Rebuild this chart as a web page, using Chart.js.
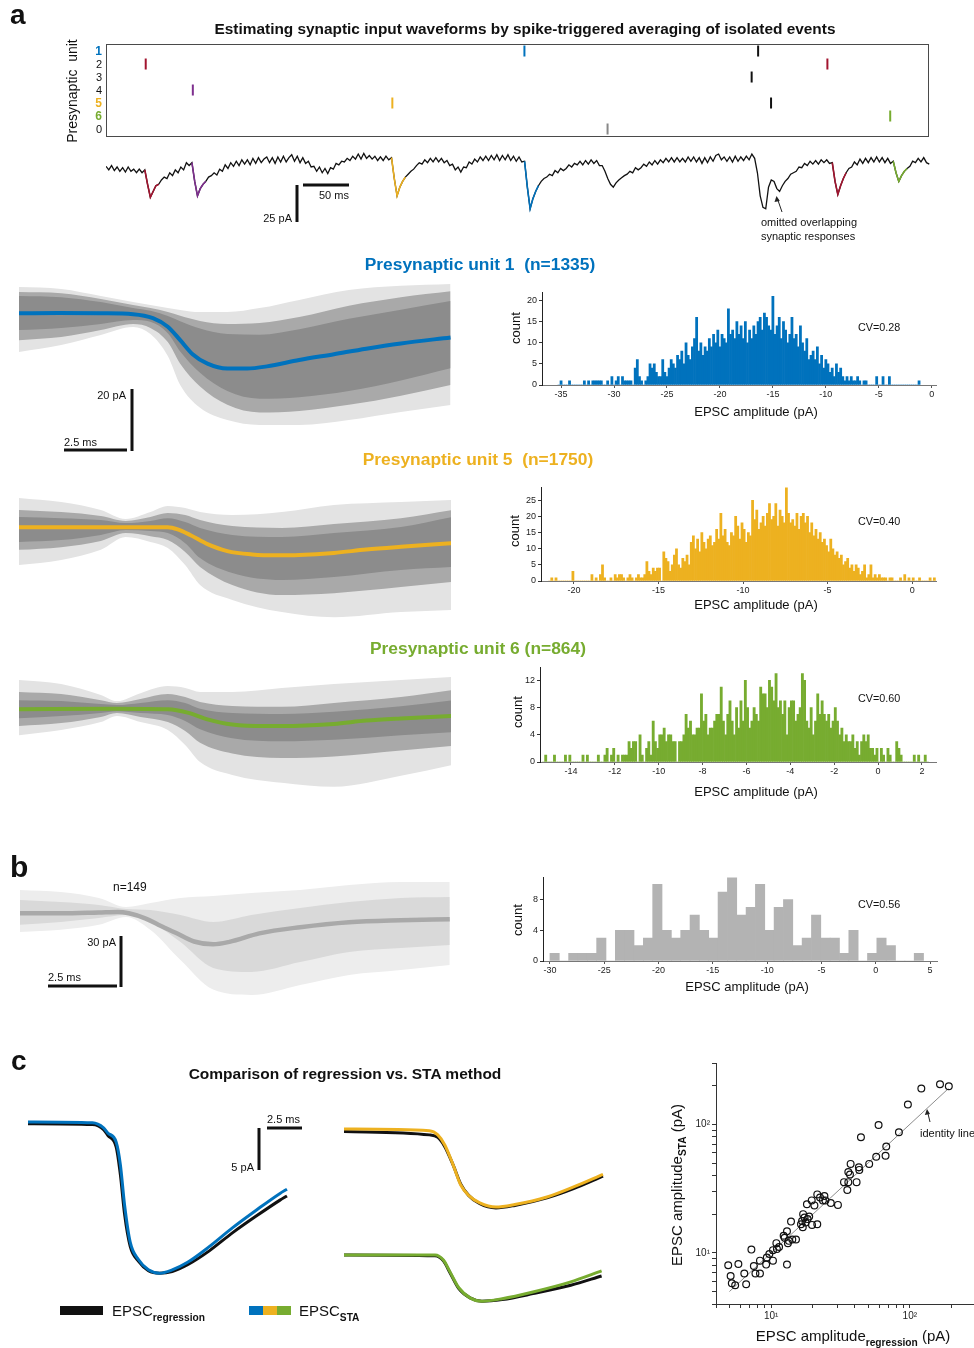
<!DOCTYPE html>
<html>
<head>
<meta charset="utf-8">
<title>Spike-triggered averaging of synaptic inputs</title>
<script src="https://cdn.jsdelivr.net/npm/chart.js@4.4.1/dist/chart.umd.min.js"></script>
<style>
  html, body { margin: 0; padding: 0; background: #fff; overflow: hidden; }
  #fig { position: relative; width: 974px; height: 1348px; overflow: hidden;
         font-family: "Liberation Sans", Arial, Helvetica, sans-serif; color: #111; }
  #fig canvas { position: absolute; z-index: 1; }
  #marks { position: absolute; left: 0; top: 0; z-index: 5; }
  .t { position: absolute; white-space: pre; line-height: 1; z-index: 6; }
  .mid { transform: translateX(-50%); }
  .end { transform: translateX(-100%); }
  .rot { transform: translate(-50%, -50%) rotate(-90deg); }
  .b { font-weight: bold; }
  sub { font-size: 0.68em; font-weight: bold; vertical-align: -0.45em; line-height: 0; }
</style>
</head>
<body>
<div id="fig">
  <!-- panel a -->
  <div class="t b" style="left:10px;top:1px;font-size:28px">a</div>
  <div class="t b mid" style="left:525px;top:21px;font-size:15.4px">Estimating synaptic input waveforms by spike-triggered averaging of isolated events</div>
  <div class="t rot" style="left:72px;top:91px;font-size:14px">Presynaptic  unit</div>
  <div class="t" style="left:319px;top:190px;font-size:11px">50 ms</div>
  <div class="t end" style="left:292px;top:213px;font-size:11px">25 pA</div>
  <div class="t" style="left:761px;top:217px;font-size:11px">omitted overlapping</div>
  <div class="t" style="left:761px;top:231px;font-size:11px">synaptic responses</div>

  <div class="t b mid" style="left:480px;top:256px;font-size:17.4px;color:#0072BD">Presynaptic unit 1  (n=1335)</div>
  <div class="t b mid" style="left:478px;top:451px;font-size:17.4px;color:#EDB120">Presynaptic unit 5  (n=1750)</div>
  <div class="t b mid" style="left:478px;top:640px;font-size:17.4px;color:#77AC30">Presynaptic unit 6 (n=864)</div>
  <div class="t end" style="left:126px;top:390px;font-size:11px">20 pA</div>
  <div class="t" style="left:64px;top:437px;font-size:11px">2.5 ms</div>

  <div class="t rot" style="left:515px;top:328px;font-size:13px">count</div>
  <div class="t mid" style="left:756px;top:405px;font-size:13px">EPSC amplitude (pA)</div>
  <div class="t" style="left:858px;top:322px;font-size:10.8px">CV=0.28</div>
  <div class="t rot" style="left:514px;top:531px;font-size:13px">count</div>
  <div class="t mid" style="left:756px;top:598px;font-size:13px">EPSC amplitude (pA)</div>
  <div class="t" style="left:858px;top:516px;font-size:10.8px">CV=0.40</div>
  <div class="t rot" style="left:517px;top:712px;font-size:13px">count</div>
  <div class="t mid" style="left:756px;top:785px;font-size:13px">EPSC amplitude (pA)</div>
  <div class="t" style="left:858px;top:693px;font-size:10.8px">CV=0.60</div>

  <!-- panel b -->
  <div class="t b" style="left:10px;top:852px;font-size:30px">b</div>
  <div class="t" style="left:113px;top:881px;font-size:12px">n=149</div>
  <div class="t end" style="left:116px;top:937px;font-size:11px">30 pA</div>
  <div class="t" style="left:48px;top:972px;font-size:11px">2.5 ms</div>
  <div class="t rot" style="left:517px;top:920px;font-size:13px">count</div>
  <div class="t mid" style="left:747px;top:980px;font-size:13px">EPSC amplitude (pA)</div>
  <div class="t" style="left:858px;top:899px;font-size:10.8px">CV=0.56</div>

  <!-- panel c -->
  <div class="t b" style="left:11px;top:1047px;font-size:28px">c</div>
  <div class="t b mid" style="left:345px;top:1066px;font-size:15.5px">Comparison of regression vs. STA method</div>
  <div class="t" style="left:267px;top:1114px;font-size:11px">2.5 ms</div>
  <div class="t end" style="left:254px;top:1162px;font-size:11px">5 pA</div>
  <div class="t" style="left:112px;top:1303px;font-size:15px">EPSC<sub>regression</sub></div>
  <div class="t" style="left:299px;top:1303px;font-size:15px">EPSC<sub>STA</sub></div>
  <div class="t rot" style="left:676px;top:1185px;font-size:15px">EPSC amplitude<sub>STA</sub> (pA)</div>
  <div class="t mid" style="left:853px;top:1328px;font-size:15px">EPSC amplitude<sub>regression</sub> (pA)</div>
  <div class="t" style="left:920px;top:1128px;font-size:11px">identity line</div>

  <!-- scale bars, legend swatches, pointer arrows -->
  <svg id="marks" width="974" height="1348">
    <g stroke="#111" stroke-width="3" fill="none">
      <line x1="297" y1="185" x2="297" y2="222"/>
      <line x1="303" y1="185" x2="349" y2="185"/>
      <line x1="132" y1="389" x2="132" y2="451"/>
      <line x1="64" y1="450" x2="127" y2="450"/>
      <line x1="121" y1="936" x2="121" y2="987"/>
      <line x1="48" y1="986" x2="117" y2="986"/>
      <line x1="259" y1="1128" x2="259" y2="1170"/>
      <line x1="267" y1="1128" x2="302" y2="1128"/>
    </g>
    <rect x="60" y="1306" width="43" height="9" fill="#111"/>
    <rect x="249" y="1306" width="14" height="9" fill="#0072BD"/>
    <rect x="263" y="1306" width="14" height="9" fill="#EDB120"/>
    <rect x="277" y="1306" width="14" height="9" fill="#77AC30"/>
    <g stroke="#222" stroke-width="1" fill="#222">
      <line x1="782" y1="212" x2="777.5" y2="199"/>
      <polygon points="776.5,196 774.5,202 779.8,201" stroke="none"/>
      <line x1="930" y1="1122" x2="927.6" y2="1112"/>
      <polygon points="927,1109 924.8,1115 930,1114" stroke="none"/>
    </g>
  </svg>
</div>

<script>
// ---------- colours ----------
const C = { blue: '#0072BD', orange: '#EDB120', green: '#77AC30', purple: '#7E2F8E', red: '#A2142F' };

// ---------- raster of presynaptic spikes ----------
const rasterRows = ['1', '2', '3', '4', '5', '6', '0'];
const spikeUnit = ['1', '1', '2', '2', '3', '4', '5', '5', '6', '0'];
const spikeMs = [453, 706, 43, 781, 699, 94, 310, 720, 849, 543];
const spikeColour = [C.blue, '#111', C.red, C.red, '#111', C.purple, C.orange, '#111', C.green, '#888'];
const unitColour = { '1': C.blue, '5': C.orange, '6': C.green };

// ---------- postsynaptic current recording (ms, pA) ----------
const rawTrace = [
  [0,0.5],[3,-2],[6,1],[9,-2.5],[12,0],[15,-3],[18,-0.5],[21,-3.5],[24,0],[27,-3],[30,-1.5],[33,-4],[36,-1.5],[39,-4],[42,-2],
  [45,-12],[48,-21],[51,-17],[54,-13],[57,-12],[60,-9],[63,-7],[66,-8],[69,-4],[72,-6],[75,-2],[78,-4],[81,0],[84,-2],[87,3],[90,1],[93,3],
  [96,-10],[99,-20],[102,-15],[105,-12],[108,-10],[111,-7],[114,-6],[117,-4],[120,-5.5],[123,-1.5],[126,-3],[129,1.5],[132,-1],[135,3],[138,0.5],
  [141,4],[144,1],[147,5],[150,2],[153,5],[156,1.5],[159,6],[162,2.5],[165,6.5],[168,3],[171,5.5],[174,7],[177,3],[180,6.5],[183,2.5],[186,7],
  [189,3.5],[192,7.5],[195,3.5],[198,6.5],[201,8.5],[204,4],[207,7.5],[210,3],[213,6.5],[216,2.5],[219,4],[222,0],[225,0.5],[228,-3],[231,0],[234,-4],
  [237,-1],[240,-4.5],[243,-0.5],[246,-1.5],[249,2.5],[252,1.5],[255,4],[258,3.5],[261,6],[264,4.5],[267,7.5],[270,5.5],[273,9],[276,5.5],[279,9.5],
  [282,6],[285,8],[288,5.5],[291,7.5],[294,4.5],[297,7],[300,4.5],[303,7.5],[306,5],[309,6.5],
  [312,-8],[315,-20],[318,-14],[321,-10],[324,-7],[327,-5],[330,-3],[333,-1.5],[336,1],[339,3],[342,2],[345,5],[348,3],[351,6],[354,3.5],
  [357,6.5],[360,3.5],[363,6],[366,3],[369,4.5],[372,1],[375,2],[378,-2],[381,0],[384,-3.5],[387,0],[390,-0.5],[393,3.5],[396,2],[399,5.5],
  [402,3.5],[405,7],[408,4.5],[411,7.5],[414,4.5],[417,8],[420,5],[423,8.5],[426,4.5],[429,8],[432,5],[435,8.5],[438,4.5],[441,7.5],[444,4],
  [447,7],[450,3.5],[453,4],
  [456,-14],[459,-29],[462,-22],[465,-17],[468,-13],[471,-10],[474,-8],[477,-7],[480,-5],[483,-6],[486,-2.5],[489,-4],[492,-1],[495,-2.5],
  [498,-1],[501,1.5],[504,0],[507,2.5],[510,1.5],[513,4],[516,1.5],[519,4.5],[522,2],[525,5],[528,2.5],[531,4.5],[534,1],[537,1],
  [540,-3],[543,-8],[546,-12],[549,-14],[552,-11],[555,-9],[558,-7.5],[561,-6],[564,-5],[567,-3],[570,-4],[573,-0.5],[576,-2],[579,-0.5],
  [582,2],[585,0.5],[588,3.5],[591,1.5],[594,4.5],[597,2],[600,5],[603,3],[606,6],[609,3.5],[612,6.5],[615,3.5],[618,6.5],[621,3.5],[624,6],
  [627,3.5],[630,7],[633,4],[636,7],[639,3.5],[642,6.5],[645,2.5],[648,6.5],[651,3],[654,7],[657,4],[660,8],[663,9],[666,5],[669,7],
  [672,4],[675,7],[678,3.5],[681,7.5],[684,4],[687,7],[690,4.5],[693,7.5],[696,5],[699,9],[702,6],
  [705,-4],[708,-20],[711,-28],[714,-29],[717,-14],[720,-9],[723,-10],[726,-15],[729,-17],[732,-13],[735,-10],[738,-8],[741,-5],[744,-4],
  [747,-3],[750,0],[753,-0.5],[756,2.5],[759,1],[762,4],[765,2],[768,4.5],[771,2],[774,5],[777,3],[780,5],[783,2.5],[786,3],
  [789,-10],[792,-19],[795,-13],[798,-8],[801,-4],[804,-1],[807,0],[810,3.5],[813,1.5],[816,5.5],[819,2.5],[822,6],[825,3],[828,6.5],[831,3.5],
  [834,7],[837,3.5],[840,6.5],[843,3],[846,6],[849,2.5],[852,4],
  [855,-4],[858,-10],[861,-6],[864,-3],[867,-1],[870,0.5],[873,4],[876,3],[879,6],[882,3.5],[885,6.5],[888,3],[891,2]
];
// isolated events highlighted on the recording (ms window) and their unit colour
const eventWindows = [[42, 57], [93, 108], [309, 324], [453, 468], [786, 801], [852, 867]];
const eventColour = [C.red, C.purple, C.orange, C.blue, C.red, C.green];

// ---------- spike-triggered waveforms: mean and spread of single sweeps (ms, pA) ----------
const u1MeanMs = [0, 1.6, 3.3, 4.6, 5.4, 6.0, 6.5, 7.0, 7.6, 8.4, 9.2, 10.0, 11.3, 12.7, 14.0, 15.4, 17.4];
const u1MeanPa = [0, 0.1, 0, -0.3, -1.6, -4.4, -8.8, -13.4, -16.5, -18.1, -18.1, -17.4, -15.3, -13.4, -11.6, -9.9, -7.9];
const u1SpreadMs = [0, 1.7, 3.3, 4.6, 5.3, 6.0, 6.5, 7.3, 8.4, 9.7, 11.3, 13.3, 15.4, 17.4];
const u1CoreHi = [5.7, 5.3, 3.7, 1.7, 0.8, -0.9, -2.6, -5.0, -6.8, -7.0, -5.2, -1.8, 1.2, 4.0];
const u1CoreLo = [-5.5, -4.8, -3.5, -2.2, -2.8, -6.5, -12.5, -19.5, -25.5, -28.0, -27.5, -25.5, -22.0, -18.0];
const u1MidHi = [7.0, 6.6, 4.7, 2.7, 1.7, 0.4, -0.8, -2.5, -3.5, -3.2, -1.2, 2.5, 5.3, 7.2];
const u1MidLo = [-8.8, -7.8, -5.5, -3.5, -4.8, -9.4, -16.5, -24.0, -30.0, -32.5, -32.0, -30.0, -27.0, -23.5];
const u1OuterHi = [8.6, 8.0, 5.7, 3.7, 2.7, 1.7, 1.1, 0.4, 0.4, 1.7, 4.4, 7.6, 9.0, 9.6];
const u1OuterLo = [-12.7, -10.4, -7.1, -4.5, -6.8, -14, -23.5, -31, -35, -36.6, -36.6, -35, -32.4, -30.1];

const u5MeanMs = [0, 3.3, 6.0, 6.4, 6.9, 7.6, 8.4, 9.4, 10.4, 11.3, 12.7, 14.0, 15.4, 17.5];
const u5MeanPa = [0, 0, 0, -0.7, -2.5, -5.5, -7.8, -8.9, -9.2, -9.1, -8.4, -7.3, -6.4, -5.2];
const u5SpreadMs = [0, 1.7, 3.3, 4.3, 5.3, 6.0, 6.7, 7.3, 8.6, 10.6, 12.7, 15.4, 17.5];
const u5CoreHi = [3.4, 3.0, 2.4, 1.4, 2.1, 3.0, 1.7, -0.2, -2.5, -3.2, -1.9, 0.1, 3.4];
const u5CoreLo = [-4.8, -4.2, -2.5, -0.9, -1.2, -1.9, -5.2, -10.1, -15, -17.3, -16.3, -14, -13];
const u5MidHi = [5.7, 5.0, 3.7, 2.1, 3.4, 4.7, 4.0, 2.4, 0.4, -0.2, 1.1, 3.0, 5.7];
const u5MidLo = [-7.4, -6.5, -4.5, -1.9, -2.9, -4.2, -8.1, -13, -18.9, -22.2, -21.6, -19.6, -17.9];
const u5OuterHi = [9.6, 8.3, 5.7, 2.7, 5.0, 7.0, 6.3, 5.0, 4.0, 5.0, 7.3, 8.3, 9.0];
const u5OuterLo = [-12.4, -10.7, -7.4, -3.2, -4.8, -6.8, -12.4, -18.9, -23.8, -27.8, -29.5, -27.8, -27.1];

const u6MeanMs = [0, 3.9, 6.0, 6.8, 7.6, 8.6, 10.0, 11.3, 12.7, 14.0, 15.4, 17.5];
const u6MeanPa = [0, 0.2, 0, -1.1, -3.3, -5.0, -5.5, -5.4, -4.8, -3.7, -3.0, -2.2];
const u6SpreadMs = [0, 1.7, 3.3, 3.95, 4.9, 6.0, 6.7, 7.3, 8.6, 10.6, 12.7, 15.4, 17.5];
const u6CoreHi = [3.0, 2.7, 1.7, 1.4, 2.1, 3.0, 2.1, 0.2, -1.2, -1.5, -0.8, 1.0, 3.0];
const u6CoreLo = [-2.9, -2.2, -1.2, -0.6, -1.2, -1.9, -3.8, -6.5, -9.5, -10.5, -10.0, -8.5, -7.5];
const u6MidHi = [5.7, 5.0, 3.0, 2.1, 3.4, 5.0, 4.0, 2.4, 1.1, 0.8, 2.1, 4.0, 6.3];
const u6MidLo = [-5.5, -4.5, -2.5, -1.2, -2.5, -4.2, -7.1, -11.0, -14.5, -16, -15.5, -13.5, -12];
const u6OuterHi = [9.6, 8.3, 4.7, 2.7, 5.3, 7.6, 7.0, 5.7, 5.7, 7.0, 8.3, 9.6, 10.6];
const u6OuterLo = [-8.5, -6.8, -4.2, -2.2, -4.2, -6.8, -11.7, -17.3, -21.5, -24.1, -25.4, -21.8, -18.2];

const bMeanMs = [0, 1.5, 2.9, 3.6, 4.0, 4.6, 5.1, 5.7, 6.4, 7.1, 7.7, 8.8, 10.3, 12.1, 14.0, 15.8];
const bMeanPa = [0, 0, 0.5, 0.8, 0, -3, -7, -11.5, -16.9, -18.6, -17.1, -12, -8.3, -5.3, -4.1, -3.5];
const bSpreadMs = [0, 1.5, 2.9, 3.9, 4.8, 5.9, 7.1, 8.5, 10.3, 12.1, 14.0, 15.8];
const bCoreHi = [8, 6.8, 5, 2.6, 2, -1, -5.2, -1, 3.2, 6.8, 9.2, 9.8];
const bCoreLo = [-6.9, -5.2, -2.8, -1, -5.2, -17.2, -32.7, -35.1, -29.2, -23.2, -20.8, -19];
const bOuterHi = [14, 12.8, 9.2, 3.8, 6.2, 9.2, 10.4, 12.2, 14, 17, 18.8, 18.8];
const bOuterLo = [-11.2, -9.9, -6.9, -2.2, -10, -28, -45.7, -48.9, -42.9, -36.9, -33.9, -30.9];

// ---------- amplitude histograms (bin start, bin width, counts) ----------
const u1BinStart = -35.3, u1BinWidth = 0.2;
const u1Counts = [
  0,1,0,0,0, 1,0,0,0,0, 0,0,1,0,1, 0,1,1,1,1, 1,0,0,1,0, 2,0,1,2,0, 2,1,1,1,1, 0,4,6,2,1,
  0,1,2,5,4, 5,3,2,2,6, 3,2,4,6,5, 4,7,6,8,5, 10,7,6,9,11, 16,8,10,7,9, 8,11,9,12,10,
  13,9,12,11,10, 18,12,13,11,15, 12,14,11,15,10, 13,11,14,12,15, 16,13,17,16,14, 13,21,12,14,16,
  11,15,13,10,12, 16,11,12,9,14, 10,8,11,6,7, 8,6,9,5,7, 4,6,5,3,4, 2,5,3,4,2, 1,2,1,2,1,
  1,2,1,0,1, 1,0,0,0,0, 2,0,0,2,0, 0,2,0,0,0, 0,0,0,0,0, 0,0,0,0,0, 1
];
const u1XTicks = [-35, -30, -25, -20, -15, -10, -5, 0];
const u1YTicks = [0, 5, 10, 15, 20];

const u5BinStart = -21.5, u5BinWidth = 0.125;
const u5Counts = [
  0,1,0,1,0,0,0,0, 0,0,0,3,0,0,0,0, 0,0,0,0,2,0,1,0, 2,5,1,0,0,1,0,2, 1,2,2,1,0,1,2,1,
  0,1,2,1,1,2,6,3, 2,4,3,4,4,0,9,7, 6,3,5,8,10,5,4,7, 6,8,5,12,14,10,13,9, 15,12,10,13,14,11,12,16,
  13,21,14,16,12,11,15,14, 20,17,13,18,16,12,15,14, 25,19,22,16,18,20,17,21, 24,19,20,24,17,22,20,18,
  29,21,18,19,17,21,16,20, 21,18,20,15,18,14,16,13, 15,12,13,11,9,13,10,8, 9,7,8,5,6,7,4,5,
  3,5,4,2,3,5,1,2, 5,1,2,1,2,1,1,1, 0,1,1,0,0,0,1,0, 2,0,1,0,1,0,0,1, 0,0,0,0,1,0,1,0
];
const u5XTicks = [-20, -15, -10, -5, 0];
const u5YTicks = [0, 5, 10, 15, 20, 25];

const u6BinStart = -15.3, u6BinWidth = 0.1;
const u6Counts = [
  0,1,0,0,0,1,0,0,0,0, 1,0,1,0,0,0,0,0,1,0, 1,0,0,0,0,1,0,0,1,2, 0,1,2,0,1,0,1,1,1,3,
  2,3,3,0,4,1,0,2,3,1, 6,3,2,4,4,5,3,4,4,3, 3,0,3,3,4,7,5,6,4,4, 5,5,10,6,7,4,5,5,6,7,
  7,11,6,4,7,9,6,4,8,5, 9,6,12,8,5,6,8,7,6,11, 10,10,8,12,11,9,13,8,9,7, 9,4,8,9,9,6,7,8,13,12,
  6,5,8,4,6,10,7,9,7,6, 7,5,6,8,6,4,5,3,4,3, 3,4,2,3,1,3,4,3,4,2, 2,1,2,0,2,1,0,2,1,0,
  0,3,2,1,0,0,0,0,0,1, 0,1,0,0,1,0
];
const u6XTicks = [-14, -12, -10, -8, -6, -4, -2, 0, 2];
const u6YTicks = [0, 4, 8, 12];

const bBinStart = -30, bBinWidth = 0.86;
const bCounts = [1,0,1,1,1,3,0,4,4,2,3,10,4,3,4,6,4,3,9,11,6,7,10,4,7,8,2,3,6,3,3,1,4,0,1,3,2,0,0,1];
const bXTicks = [-30, -25, -20, -15, -10, -5, 0, 5];
const bYTicks = [0, 4, 8];

// ---------- regression vs STA waveforms (ms, pA) ----------
const cUnit1Ms = [0, 4.6, 5.4, 5.7, 6.3, 6.6, 6.9, 7.3, 7.9, 8.6, 9.4, 10.3, 11.4, 12.9, 14.6, 16.3, 18.0, 18.5];
const cUnit1Sta = [0, -0.1, -0.7, -1.3, -2.4, -5.1, -9.9, -14.3, -16.4, -17.6, -18.0, -17.6, -16.7, -14.9, -12.6, -10.5, -8.5, -8.0];
const cUnit1Reg = [-0.2, -0.3, -0.9, -1.6, -3.0, -6.3, -11.0, -14.8, -16.6, -17.7, -18.0, -17.8, -17.0, -15.4, -13.2, -11.2, -9.3, -8.8];
const cUnit5Ms = [0, 6.1, 6.7, 7.2, 7.8, 8.35, 8.9, 9.7, 10.85, 12.2, 14.5, 16.4, 18.5];
const cUnit5Sta = [0, -0.2, -0.7, -1.9, -4.3, -6.7, -7.9, -8.8, -9.3, -9.0, -8.1, -6.9, -5.4];
const cUnit5Reg = [-0.3, -0.7, -1.0, -2.1, -4.3, -6.6, -7.9, -8.9, -9.4, -9.1, -8.2, -7.1, -5.6];
const cUnit6Ms = [0, 6.5, 7.1, 7.6, 8.2, 9.0, 9.85, 11.3, 13.5, 16.2, 18.4];
const cUnit6Sta = [0, 0, -0.6, -2.1, -3.9, -5.1, -5.5, -5.2, -4.4, -3.2, -1.9];
const cUnit6Reg = [0, -0.1, -0.7, -2.2, -4.0, -5.1, -5.5, -5.3, -4.6, -3.6, -2.5];

// ---------- EPSC amplitudes, regression vs STA (pA) ----------
const regAmp = [4.9,5.1,5.2,5.5,5.8,6.4,6.6,7.2,7.5,7.7,8.3,8.3,9.2,9.3,9.7,10.3,10.3,10.9,11.0,11.4,13.0,12.3,12.5,13.0,13.2,13.4,13.9,14.2,15.1,16.4,16.7,16.9,17.0,17.4,17.7,18.1,18.3,18.8,19.6,19.7,20.5,21.5,21.5,22.5,23.6,24.2,24.6,26.9,30.3,33.5,35.4,36.0,36.0,37.0,37.4,41.3,42.9,43.2,44.4,50.9,57.2,59.5,66.8,67.6,83.4,96.8,121,165,191];
const staAmp = [8.0,6.6,5.8,5.6,8.2,6.9,5.7,10.6,7.9,6.9,6.9,8.7,8.1,9.2,9.8,8.7,10.5,11.9,10.7,11.1,8.1,13.6,13.1,14.7,11.9,12.4,17.5,12.7,12.7,16.7,17.7,15.8,20.0,18.8,17.2,23.9,18.3,19.2,25.6,16.5,23.4,16.7,28.5,26.9,25.6,27.7,25.6,24.4,23.6,35.5,30.8,35.5,42.6,40.7,49.2,35.5,46.4,44.2,79.4,49.2,56.0,98.9,57.0,67.3,86.7,142.6,190,205,198];
const identityEnds = [5, 190];
const logTicks = [4, 5, 6, 7, 8, 9, 10, 20, 30, 40, 50, 60, 70, 80, 90, 100, 200, 300];

// ================= drawing =================
Chart.defaults.animation = false;
Chart.defaults.responsive = false;
Chart.defaults.events = [];
Chart.defaults.layout.autoPadding = false;
Chart.defaults.font.family = '"Liberation Sans", Arial, sans-serif';
Chart.defaults.color = '#222';
Chart.defaults.plugins.legend.display = false;
Chart.defaults.plugins.tooltip.enabled = false;
Chart.defaults.elements.point.radius = 0;

const fig = document.getElementById('fig');

function addCanvas(left, top, width, height) {
  const cv = document.createElement('canvas');
  cv.width = width;
  cv.height = height;
  Object.assign(cv.style, { left: left + 'px', top: top + 'px', width: width + 'px', height: height + 'px' });
  fig.appendChild(cv);
  return cv;
}

function addText(text, left, top, size, cls, colour) {
  const d = document.createElement('div');
  d.className = 't ' + cls;
  d.textContent = text;
  Object.assign(d.style, { left: left + 'px', top: top + 'px', fontSize: size + 'px' });
  if (colour) d.style.color = colour;
  fig.appendChild(d);
}

const pts = (ms, pa) => ms.map((t, i) => ({ x: t, y: pa[i] }));

function trace(ms, pa, colour, width) {
  return { data: pts(ms, pa), borderColor: colour, borderWidth: width, fill: false };
}

// filled region between two envelopes; the lower one is the "next" dataset
function band(ms, hi, lo, colour) {
  return [
    { data: pts(ms, hi), borderColor: 'rgba(0,0,0,0)', borderWidth: 1, backgroundColor: colour, fill: '+1' },
    { data: pts(ms, lo), borderColor: 'rgba(0,0,0,0)', borderWidth: 1, fill: false }
  ];
}

// axis-free current plot; box gives placement and scale (px per ms, px per pA, baseline px)
function waveChart(box, datasets, smooth = true) {
  const cv = addCanvas(box.left, box.top, box.width, box.height);
  return new Chart(cv, {
    type: 'line',
    data: { datasets },
    options: {
      layout: { padding: 0 },
      elements: { line: { cubicInterpolationMode: smooth ? 'monotone' : 'default', tension: 0 } },
      scales: {
        x: { type: 'linear', display: false, min: 0, max: box.width / box.pxPerMs },
        y: { type: 'linear', display: false,
             min: (box.base - box.top - box.height) / box.pxPerPa,
             max: (box.base - box.top) / box.pxPerPa }
      }
    }
  });
}

function histChart(box, binStart, binWidth, counts, colour, xTicks, yTicks) {
  const cv = addCanvas(box.left, box.top, box.width, box.height);
  const bars = counts.map((n, i) => ({ x: binStart + (i + 0.5) * binWidth, y: n }));
  return new Chart(cv, {
    type: 'bar',
    data: { datasets: [{ data: bars, backgroundColor: colour, borderWidth: 0, barPercentage: 1, categoryPercentage: 1 }] },
    options: {
      layout: { padding: { top: box.padTop, right: box.padRight, left: 0, bottom: 0 } },
      scales: {
        x: {
          type: 'linear', min: box.xMin, max: box.xMax, offset: false,
          afterFit: s => { s.height = 20; },
          afterBuildTicks: s => { s.ticks = xTicks.map(v => ({ value: v })); },
          ticks: { autoSkip: false, maxRotation: 0, padding: 1, font: { size: 9 }, callback: v => String(v) },
          grid: { offset: false, drawOnChartArea: false, tickLength: 3, color: '#555' },
          border: { color: '#777' }
        },
        y: {
          min: 0, max: box.yMax,
          afterFit: s => { s.width = box.axisW; },
          afterBuildTicks: s => { s.ticks = yTicks.map(v => ({ value: v })); },
          ticks: { autoSkip: false, padding: 2, font: { size: 9 }, callback: v => String(v) },
          grid: { drawOnChartArea: false, tickLength: 3, color: '#333' },
          border: { color: '#222' }
        }
      }
    }
  });
}

// --- raster ---
const framePlugin = {
  id: 'frame',
  afterDraw(chart) {
    const a = chart.chartArea, ctx = chart.ctx;
    ctx.save();
    ctx.strokeStyle = '#4a4a4a';
    ctx.lineWidth = 1;
    ctx.strokeRect(a.left + 0.5, a.top + 0.5, a.right - a.left - 1, a.bottom - a.top - 1);
    ctx.restore();
  }
};
const rowValue = u => 6 - rasterRows.indexOf(u);
const rasterChart = new Chart(addCanvas(80, 40, 850, 100), {
  type: 'scatter',
  data: { datasets: [{
    data: spikeMs.map((t, i) => ({ x: t, y: rowValue(spikeUnit[i]) })),
    pointStyle: 'line', pointRotation: 90, pointRadius: 5.5, pointBorderWidth: 2, pointBorderColor: spikeColour
  }] },
  options: {
    layout: { padding: { top: 4, right: 1, bottom: 3, left: 26 } },
    scales: {
      x: { type: 'linear', display: false, min: 0, max: 891 },
      y: { type: 'linear', display: false, min: -0.615, max: 6.54 }
    }
  },
  plugins: [framePlugin]
});
// unit labels beside each raster row, placed through the row scale
rasterRows.forEach(u => {
  const y = 40 + rasterChart.scales.y.getPixelForValue(rowValue(u));
  const size = unitColour[u] ? 12 : 11;
  addText(u, 102, y - 0.49 * size, size, 'end' + (unitColour[u] ? ' b' : ''), unitColour[u]);
});

// --- recording with highlighted isolated events ---
const rawMs = rawTrace.map(p => p[0]);
const rawPa = rawTrace.map(p => p[1]);
const eventSets = eventWindows.map(([a, b], k) => {
  const seg = rawTrace.filter(p => p[0] >= a && p[0] <= b);
  return trace(seg.map(p => p[0]), seg.map(p => p[1]), eventColour[k], 1.6);
});
waveChart({ left: 106, top: 148, width: 824, height: 72, base: 167, pxPerMs: 0.924, pxPerPa: 1.44 },
  [...eventSets, trace(rawMs, rawPa, '#111', 1.3)], false);

// --- per-unit spike-triggered sweeps ---
const aScale = { pxPerMs: 24.8, pxPerPa: 3.05 };
const CORE = '#8c8c8c', MID = '#a9a9a9', OUTER = '#e3e3e3';
waveChart({ left: 19, top: 280, width: 432, height: 160, base: 313.3, ...aScale }, [
  trace(u1MeanMs, u1MeanPa, C.blue, 4),
  ...band(u1SpreadMs, u1CoreHi, u1CoreLo, CORE),
  ...band(u1SpreadMs, u1MidHi, u1MidLo, MID),
  ...band(u1SpreadMs, u1OuterHi, u1OuterLo, OUTER)
]);
waveChart({ left: 19, top: 475, width: 432, height: 160, base: 527.3, ...aScale }, [
  trace(u5MeanMs, u5MeanPa, C.orange, 4),
  ...band(u5SpreadMs, u5CoreHi, u5CoreLo, CORE),
  ...band(u5SpreadMs, u5MidHi, u5MidLo, MID),
  ...band(u5SpreadMs, u5OuterHi, u5OuterLo, OUTER)
]);
waveChart({ left: 19, top: 660, width: 432, height: 135, base: 709.3, ...aScale }, [
  trace(u6MeanMs, u6MeanPa, C.green, 4),
  ...band(u6SpreadMs, u6CoreHi, u6CoreLo, CORE),
  ...band(u6SpreadMs, u6MidHi, u6MidLo, MID),
  ...band(u6SpreadMs, u6OuterHi, u6OuterLo, OUTER)
]);
waveChart({ left: 20, top: 875, width: 432, height: 125, base: 913.3, pxPerMs: 27.2, pxPerPa: 1.67 }, [
  trace(bMeanMs, bMeanPa, '#a9a9a9', 4.5),
  ...band(bSpreadMs, bCoreHi, bCoreLo, '#d9d9d9'),
  ...band(bSpreadMs, bOuterHi, bOuterLo, '#ededed')
]);

// --- amplitude histograms ---
histChart({ left: 500, top: 285, width: 440, height: 120, padTop: 5, padRight: 4, axisW: 42, xMin: -36.8, xMax: 0.4, yMax: 21.9 },
  u1BinStart, u1BinWidth, u1Counts, C.blue, u1XTicks, u1YTicks);
histChart({ left: 500, top: 480, width: 440, height: 121, padTop: 5, padRight: 4, axisW: 41, xMin: -21.95, xMax: 1.41, yMax: 29 },
  u5BinStart, u5BinWidth, u5Counts, C.orange, u5XTicks, u5YTicks);
histChart({ left: 500, top: 660, width: 440, height: 122, padTop: 5, padRight: 4, axisW: 40, xMin: -15.41, xMax: 2.64, yMax: 13.9 },
  u6BinStart, u6BinWidth, u6Counts, C.green, u6XTicks, u6YTicks);
histChart({ left: 500, top: 870, width: 441, height: 111, padTop: 5, padRight: 4, axisW: 43, xMin: -30.64, xMax: 5.64, yMax: 10.9 },
  bBinStart, bBinWidth, bCounts, '#b3b3b3', bXTicks, bYTicks);

// --- regression vs STA overlays ---
const cScale = { pxPerMs: 14, pxPerPa: 8.4 };
waveChart({ left: 28, top: 1108, width: 262, height: 180, base: 1122, ...cScale }, [
  trace(cUnit1Ms, cUnit1Sta, C.blue, 3), trace(cUnit1Ms, cUnit1Reg, '#111', 3)
]);
waveChart({ left: 344, top: 1118, width: 262, height: 100, base: 1129, ...cScale }, [
  trace(cUnit5Ms, cUnit5Sta, C.orange, 3), trace(cUnit5Ms, cUnit5Reg, '#111', 3)
]);
waveChart({ left: 344, top: 1243, width: 262, height: 72, base: 1255, ...cScale }, [
  trace(cUnit6Ms, cUnit6Sta, C.green, 3), trace(cUnit6Ms, cUnit6Reg, '#111', 3)
]);

// --- amplitude scatter, log-log ---
const logAxis = (isX) => ({
  type: 'logarithmic', min: 4, max: 300,
  afterFit: s => { if (isX) s.height = 22; else s.width = 26; },
  afterBuildTicks: s => { s.ticks = logTicks.map(v => ({ value: v })); },
  ticks: { autoSkip: false, maxRotation: 0, padding: 2, font: { size: 10 },
           callback: v => (v === 10 ? '10¹' : v === 100 ? '10²' : '') },
  grid: { drawOnChartArea: false, tickLength: 4, color: '#333' },
  border: { color: '#333' }
});
new Chart(addCanvas(690, 1055, 290, 271), {
  type: 'scatter',
  data: { datasets: [
    { data: regAmp.map((x, i) => ({ x, y: staAmp[i] })), pointRadius: 3.4, pointBorderWidth: 1.2,
      pointBorderColor: '#111', pointBackgroundColor: 'rgba(0,0,0,0)' },
    { data: identityEnds.map(v => ({ x: v, y: v })), showLine: true, borderColor: '#8c8c8c', borderWidth: 1, pointRadius: 0 }
  ] },
  options: {
    layout: { padding: { top: 7, right: 4, left: 0, bottom: 0 } },
    scales: { x: logAxis(true), y: logAxis(false) }
  }
});
</script>
</body>
</html>
